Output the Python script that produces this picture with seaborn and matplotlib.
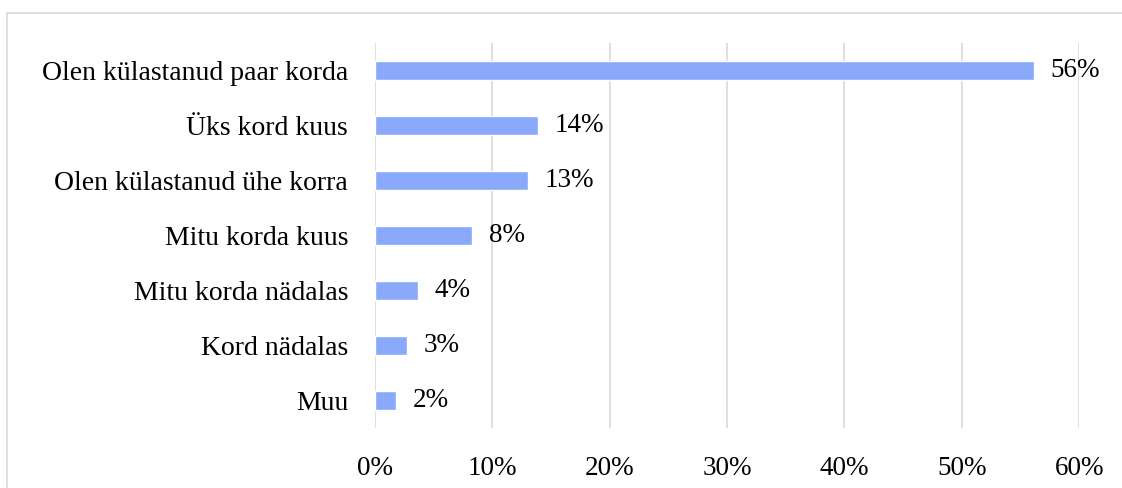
import matplotlib.pyplot as plt
import matplotlib as mpl
import pandas as pd
import seaborn as sns

categories = [
    "Olen külastanud paar korda",
    "Üks kord kuus",
    "Olen külastanud ühe korra",
    "Mitu korda kuus",
    "Mitu korda nädalas",
    "Kord nädalas",
    "Muu",
]
shares = [56.1, 13.9, 13.1, 8.3, 3.7, 2.8, 1.8]
labels = ["56%", "14%", "13%", "8%", "4%", "3%", "2%"]
xticks = [0, 10, 20, 30, 40, 50, 60]

df = pd.DataFrame({"category": categories, "share": shares})

sns.set_theme(style="white")
plt.rcParams["font.family"] = ["Liberation Serif", "DejaVu Serif"]

fig = plt.figure(figsize=(11.22, 4.88), dpi=100)
ax = fig.add_axes([0.3338, 0.123, 0.6283, 0.789])

sns.barplot(data=df, x="share", y="category", color="#8aa9fb",
            saturation=1, width=0.36, ax=ax)

for c in ax.containers:
    ax.bar_label(c, labels=labels, padding=12, fontsize=19.5, color="black")

ax.set_xlim(0, 60)
ax.set_ylim(6.5, -0.5)
ax.set_xticks(xticks)
ax.set_xticklabels([f"{t}%" for t in xticks])
ax.tick_params(axis="x", length=0, pad=20, labelsize=19.5, labelcolor="black")
ax.tick_params(axis="y", length=0, pad=19, labelsize=20, labelcolor="black")
ax.set_xlabel("")
ax.set_ylabel("")
ax.grid(axis="x", color="#d9d9d9", linewidth=1.2)
ax.set_axisbelow(True)
for s in ax.spines.values():
    s.set_visible(False)

# outer chart frame
frame = mpl.patches.Rectangle((7 / 1122, -0.1), 1.2, 1 - 13 / 488 + 0.1,
                              transform=fig.transFigure, fill=False,
                              edgecolor="#d9d9d9", linewidth=1.2)
fig.patches.append(frame)

fig.savefig("out.png", dpi=100)
